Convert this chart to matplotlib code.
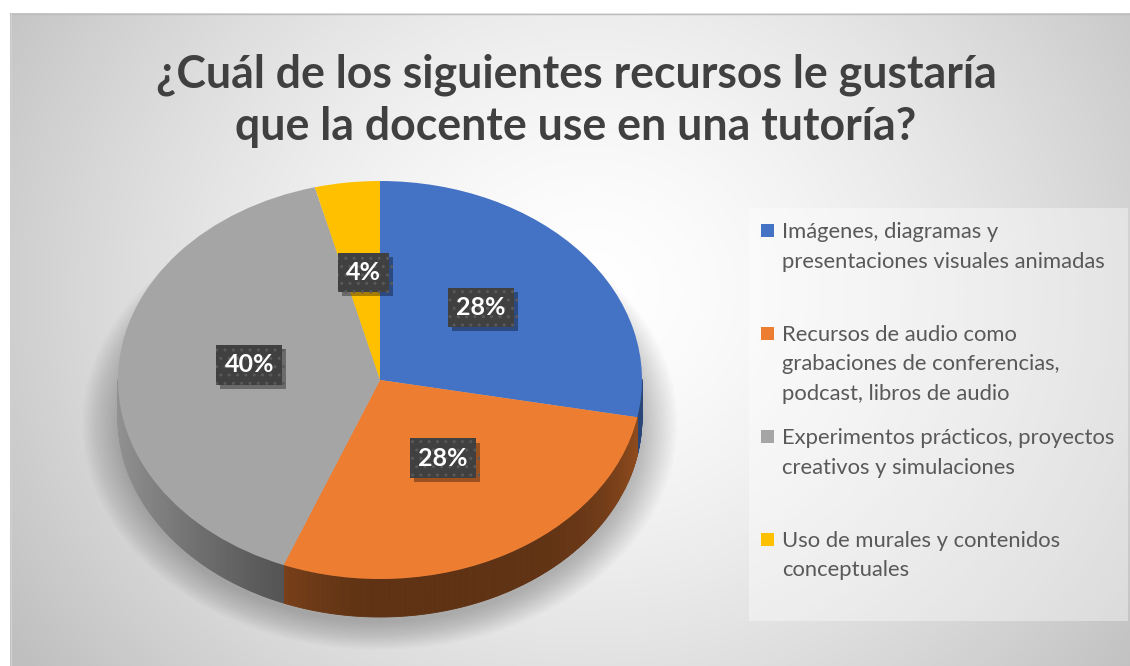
import numpy as np
import matplotlib
matplotlib.use('Agg')
import matplotlib.pyplot as plt
import matplotlib.colors as mcolors
import matplotlib.transforms as mtransforms
from matplotlib.patches import Polygon, Rectangle, Ellipse
import matplotlib.patheffects as pe

# ---------------- data ----------------
title_lines = ["¿Cuál de los siguientes recursos le gustaría",
               "que la docente use en una tutoría?"]
categories = ["Imágenes, diagramas y\npresentaciones visuales animadas",
              "Recursos de audio como\ngrabaciones de conferencias,\npodcast, libros de audio",
              "Experimentos prácticos, proyectos\ncreativos y simulaciones",
              "Uso de murales y contenidos\nconceptuales"]
values = [28, 28, 40, 4]
colors = ["#4472C4", "#ED7D31", "#A5A5A5", "#FFC000"]

plt.rcParams['font.family'] = ['Lato', 'DejaVu Sans']

W, H = 1130, 666
fig = plt.figure(figsize=(W / 100, H / 100), dpi=100)

# ---------------- background ----------------
bg = fig.add_axes([0, 0, 1, 1])
bg.set_xlim(0, W)
bg.set_ylim(H, 0)
bg.axis('off')
yy, xx = np.mgrid[0:H, 0:W]
dist = np.hypot((xx - 590) / 1.0, (yy - 290) / 0.9) / 700
v = 1 - 0.25 * np.clip(dist, 0, 1) ** 1.5
img = np.dstack([v, v, v])
img[:13, :] = 1
img[:, :10] = 1
bg.imshow(img, extent=(0, W, H, 0), aspect='auto', interpolation='bilinear', zorder=0)
bg.plot([10, W], [13.5, 13.5], color='#bdbdbd', lw=1, zorder=1)
bg.plot([10.5, 10.5], [13, H], color='#cfcfcf', lw=1, zorder=1)
# legend area
bg.add_patch(Rectangle((749, 208), 379, 413, facecolor='white', alpha=0.38, lw=0, zorder=1))

# ---------------- pie ----------------
cx, cy, rx, ry = 380, 380, 262, 199
ax_l, ax_r, ax_t, ax_b = 70, 690, 140, 662
ax = fig.add_axes([ax_l / W, (H - ax_b) / H, (ax_r - ax_l) / W, (ax_b - ax_t) / H])
ax.patch.set_alpha(0)
wedges, texts, autotexts = ax.pie(
    values, colors=colors, startangle=90, counterclock=False,
    autopct='%1.0f%%', pctdistance=0.5,
    wedgeprops=dict(linewidth=0),
    textprops=dict(color='white', fontsize=18, fontweight='bold'))
ax.set_aspect('auto')
ax.set_xlim((ax_l - cx) / rx, (ax_r - cx) / rx)
ax.set_ylim((cy - ax_b) / ry, (cy - ax_t) / ry)
ax.axis('off')
for w in wedges:
    w.set_zorder(3)

depth = 38 / ry

# soft shadow under the pie
for k in range(16):
    s = 1.0 + 0.009 * k
    ax.add_patch(Ellipse((0.0, -depth - 0.03), 2 * s, 2 * s, facecolor='black',
                         alpha=0.016, lw=0, zorder=0.5))


def shade(t):
    r = np.radians(t)
    return (0.40 + 0.48 * max(0.0, np.cos(r - np.pi)) ** 1.5
            + 0.22 * max(0.0, np.cos(r)) ** 6)


for w, c in zip(wedges, colors):
    base = np.array(mcolors.to_rgb(c))
    ts = np.linspace(w.theta1, w.theta2, max(3, int((w.theta2 - w.theta1) / 0.5)) + 1)
    for a, b in zip(ts[:-1], ts[1:]):
        m = np.radians((a + b) / 2)
        if np.sin(m) >= 0:
            continue
        ra, rb = np.radians(a), np.radians(b)
        pts = [(np.cos(ra), np.sin(ra)), (np.cos(rb), np.sin(rb)),
               (np.cos(rb), np.sin(rb) - depth), (np.cos(ra), np.sin(ra) - depth)]
        col = np.clip(base * shade((a + b) / 2), 0, 1)
        ax.add_patch(Polygon(pts, closed=True, facecolor=col, edgecolor=col,
                             lw=0.6, zorder=2))

# perspective: labels sit a little higher than the flat ellipse suggests
lift = mtransforms.ScaledTranslation(0, 9 / 100, fig.dpi_scale_trans)
for t in autotexts:
    t.set_transform(ax.transData + lift)
    t.set_zorder(6)
    t.set_bbox(dict(boxstyle='square,pad=0.33', facecolor='#404040',
                    edgecolor='#595959', linewidth=0, hatch='..'))
    t.get_bbox_patch().set_path_effects(
        [pe.SimplePatchShadow(offset=(3, -3), shadow_rgbFace='black', alpha=0.35),
         pe.Normal()])

# ---------------- title ----------------
title_col = '#404040'
tt = [fig.text(576 / W, 1 - b / H, s, ha='center', va='baseline', fontsize=32,
               fontweight='bold', color=title_col)
      for s, b in zip(title_lines, [87, 140])]
fig.canvas.draw()
wpx = tt[0].get_window_extent().width
fs = 32 * 842 / wpx
for t in tt:
    t.set_fontsize(fs)

# ---------------- legend ----------------
leg_col = '#595959'
first_base = 238
pitch = 103
line_step = 29.5
for i, (lab, c) in enumerate(zip(categories, colors)):
    b0 = first_base + i * pitch
    bg.add_patch(Rectangle((761, b0 - 14), 13, 13, facecolor=c, lw=0, zorder=3))
    for j, line in enumerate(lab.split('\n')):
        fig.text(782 / W, 1 - (b0 + j * line_step) / H, line, ha='left',
                 va='baseline', fontsize=15.8, color=leg_col)

fig.savefig('out.png', dpi=100)
